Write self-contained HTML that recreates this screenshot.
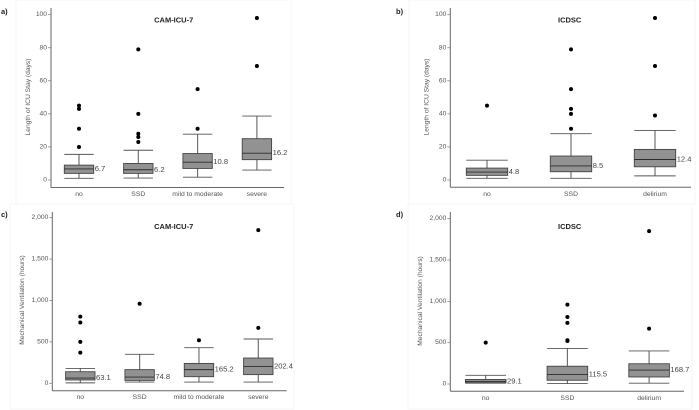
<!DOCTYPE html>
<html lang="en">
<head>
<meta charset="utf-8">
<title>Boxplots of ICU stay and mechanical ventilation by delirium score</title>
<style>
html,body{margin:0;padding:0;background:#fff;}
body{width:699px;height:410px;overflow:hidden;}
svg{display:block;font-family:"Liberation Sans",sans-serif;filter:blur(0.3px);}
</style>
</head>
<body>
<svg id="chart" width="699" height="410" viewBox="0 0 699 410" xmlns="http://www.w3.org/2000/svg"></svg>
<script>
// Panel a: ICU stay by CAM-ICU-7
const aCategories = ["no", "SSD", "mild to moderate", "severe"];
const aWhiskerLow = [1, 1.2, 1.7, 6];
const aQ1 = [4, 4, 7, 12.3];
const aMedian = [6.7, 6.2, 10.8, 16.2];
const aQ3 = [9, 10, 16, 25];
const aWhiskerHigh = [15.5, 18, 27.7, 38.7];
const aOutliers = [[20, 31, 43, 45], [23, 26, 28, 40, 79], [31, 55], [69, 98]];

// Panel b: ICU stay by ICDSC
const bCategories = ["no", "SSD", "delirium"];
const bWhiskerLow = [1, 1, 2.5];
const bQ1 = [2.8, 5, 8];
const bMedian = [4.8, 8.5, 12.4];
const bQ3 = [7.2, 14.5, 18.5];
const bWhiskerHigh = [12, 28, 30];
const bOutliers = [[45], [31, 40, 43, 55, 79], [39, 69, 98]];

// Panel c: ventilation by CAM-ICU-7
const cCategories = ["no", "SSD", "mild to moderate", "severe"];
const cWhiskerLow = [5, 15, 15, 15];
const cQ1 = [40, 35, 80, 105];
const cMedian = [63.1, 74.8, 165.2, 202.4];
const cQ3 = [140, 165, 240, 305];
const cWhiskerHigh = [180, 350, 430, 535];
const cOutliers = [[370, 500, 735, 805], [960], [520], [670, 1850]];

// Panel d: ventilation by ICDSC
const dCategories = ["no", "SSD", "delirium"];
const dWhiskerLow = [10, 5, 10];
const dQ1 = [15, 45, 85];
const dMedian = [29.1, 115.5, 168.7];
const dQ3 = [55, 215, 245];
const dWhiskerHigh = [105, 430, 400];
const dOutliers = [[500], [520, 530, 740, 810, 960], [670, 1850]];

const stayTicks = [0, 20, 40, 60, 80, 100];
const ventTicks = [0, 500, 1000, 1500, 2000];

const svg = document.getElementById('chart');
const NS = 'http://www.w3.org/2000/svg';

function make(tag, props, text) {
  const el = document.createElementNS(NS, tag);
  for (const k in props) el.setAttribute(k, props[k]);
  if (text !== undefined) el.textContent = text;
  svg.appendChild(el);
  return el;
}

function drawPanel(p) {
  const yOf = v => p.y0 + (p.yTop - p.y0) * v / p.yMax;
  const xOf = i => p.xFirst + p.xStep * i;

  const frame = make('rect', {x: p.fx, y: p.fy, width: p.fw, height: p.fh, fill: '#fff', stroke: '#f5f5f5', 'stroke-width': 1});
  
  

  const letter = make('text', {x: p.letterX, y: p.letterY, 'font-size': 7.5, 'font-weight': 'bold', fill: '#222'}, p.id + ')');
  
  

  const title = make('text', {x: p.titleX, y: p.titleY, 'font-size': 7.5, 'font-weight': 'bold', fill: '#222', 'text-anchor': 'middle', 'dominant-baseline': 'central'}, p.title);
  
  

  const yTitle = make('text', {x: 0, y: 0, 'font-size': 6.7, fill: '#555', 'text-anchor': 'middle', 'dominant-baseline': 'central', transform: 'translate(' + p.yLabelX + ',' + p.yLabelY + ') rotate(-90)'}, p.yLabel);
  
  

  const yAxis = make('line', {x1: p.axisX, x2: p.axisX, y1: p.axisTop, y2: p.axisBottom, stroke: '#666', 'stroke-width': 1});
  
  

  const xAxis = make('line', {x1: p.axisX, x2: p.axisRight, y1: p.axisBottom, y2: p.axisBottom, stroke: '#666', 'stroke-width': 1});
  
  

  p.ticks.forEach(t => {
    const y = yOf(t);
    const tick = make('line', {x1: p.axisX - 3, x2: p.axisX, y1: y, y2: y, stroke: '#777', 'stroke-width': 0.7});
    
    
    const label = make('text', {x: p.axisX - 4, y: y, 'font-size': 6.7, fill: '#555', 'text-anchor': 'end', 'dominant-baseline': 'central'}, t.toLocaleString('en-US'));
    
    
  });

  p.categories.forEach((cat, i) => {
    const x = xOf(i);
    const hw = p.boxHalf;
    const whisker = make('line', {x1: x, x2: x, y1: yOf(p.whiskerLow[i]), y2: yOf(p.whiskerHigh[i]), stroke: '#666', 'stroke-width': 1.1});
    
    

    const capLow = make('line', {x1: x - hw, x2: x + hw, y1: yOf(p.whiskerLow[i]), y2: yOf(p.whiskerLow[i]), stroke: '#555', 'stroke-width': 0.9});
    
    

    const capHigh = make('line', {x1: x - hw, x2: x + hw, y1: yOf(p.whiskerHigh[i]), y2: yOf(p.whiskerHigh[i]), stroke: '#555', 'stroke-width': 0.9});
    
    

    const box = make('rect', {x: x - hw, y: yOf(p.q3[i]), width: hw * 2, height: yOf(p.q1[i]) - yOf(p.q3[i]), fill: '#929292', stroke: '#444', 'stroke-width': 0.9});
    
    

    const med = make('line', {x1: x - hw, x2: x + hw, y1: yOf(p.median[i]), y2: yOf(p.median[i]), stroke: '#2b2b2b', 'stroke-width': 0.9});
    
    

    const medLabel = make('text', {x: x + hw + 1, y: yOf(p.median[i]) - 0.5, 'font-size': 7.6, fill: '#444', 'dominant-baseline': 'central'}, p.median[i].toFixed(1));
    
    

    p.outliers[i].forEach(v => {
      const dot = make('circle', {cx: x, cy: yOf(v), r: 2, fill: '#000'});
      
      
    });

    const catLabel = make('text', {x: x, y: p.catY, 'font-size': 6.8, fill: '#555', 'text-anchor': 'middle', 'dominant-baseline': 'central'}, cat);
    
    
  });
}

drawPanel({id: 'a', title: 'CAM-ICU-7', yLabel: 'Length of ICU Stay (days)', yMax: 100, ticks: stayTicks,
  categories: aCategories, whiskerLow: aWhiskerLow, q1: aQ1, median: aMedian, q3: aQ3, whiskerHigh: aWhiskerHigh, outliers: aOutliers,
  fx: 16, fy: 0, fw: 275, fh: 204, letterX: 1, letterY: 14, titleX: 173.7, titleY: 20,
  yLabelX: 28.5, yLabelY: 97, axisX: 51, axisTop: 8, axisBottom: 187.5, axisRight: 284,
  y0: 180, yTop: 14.7, xFirst: 79, xStep: 59.3, boxHalf: 14.7, catY: 194.5});

drawPanel({id: 'b', title: 'ICDSC', yLabel: 'Length of ICU Stay (days)', yMax: 100, ticks: stayTicks,
  categories: bCategories, whiskerLow: bWhiskerLow, q1: bQ1, median: bMedian, q3: bQ3, whiskerHigh: bWhiskerHigh, outliers: bOutliers,
  fx: 409, fy: 0, fw: 286, fh: 204, letterX: 396, letterY: 14, titleX: 569.7, titleY: 20,
  yLabelX: 427, yLabelY: 97, axisX: 450.3, axisTop: 8, axisBottom: 187.3, axisRight: 691,
  y0: 180, yTop: 14.7, xFirst: 487, xStep: 84, boxHalf: 20.7, catY: 194.5});

drawPanel({id: 'c', title: 'CAM-ICU-7', yLabel: 'Mechanical Ventilation (hours)', yMax: 2000, ticks: ventTicks,
  categories: cCategories, whiskerLow: cWhiskerLow, q1: cQ1, median: cMedian, q3: cQ3, whiskerHigh: cWhiskerHigh, outliers: cOutliers,
  fx: 10, fy: 204, fw: 284, fh: 205, letterX: 1, letterY: 217, titleX: 173.7, titleY: 226.3,
  yLabelX: 22.7, yLabelY: 300, axisX: 52.3, axisTop: 212, axisBottom: 390.7, axisRight: 286.7,
  y0: 383.3, yTop: 217.7, xFirst: 80.3, xStep: 59.33, boxHalf: 14.7, catY: 397.5});

drawPanel({id: 'd', title: 'ICDSC', yLabel: 'Mechanical Ventilation (hours)', yMax: 2000, ticks: ventTicks,
  categories: dCategories, whiskerLow: dWhiskerLow, q1: dQ1, median: dMedian, q3: dQ3, whiskerHigh: dWhiskerHigh, outliers: dOutliers,
  fx: 408, fy: 204, fw: 284, fh: 205, letterX: 396, letterY: 217, titleX: 569.7, titleY: 226.3,
  yLabelX: 420.3, yLabelY: 301, axisX: 450.3, axisTop: 212, axisBottom: 391.3, axisRight: 684,
  y0: 384, yTop: 218.7, xFirst: 485.7, xStep: 81.7, boxHalf: 20.3, catY: 398.3});
</script>
</body>
</html>
